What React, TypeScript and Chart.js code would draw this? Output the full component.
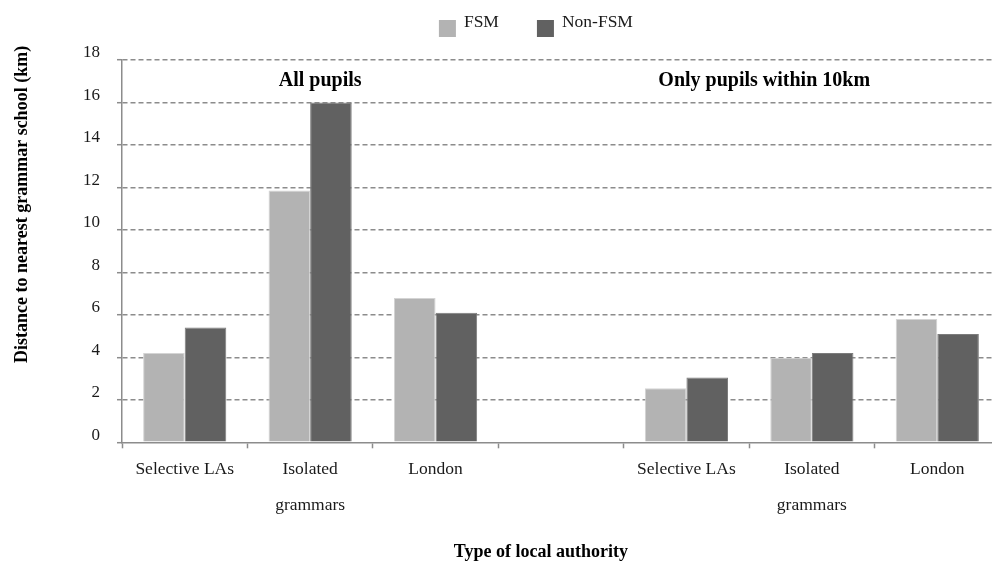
import React, { useEffect, useRef } from 'react';
import { Chart, registerables } from 'chart.js';

Chart.register(...registerables);

const categories: string[][] = [
  ['Selective LAs'],
  ['Isolated', 'grammars'],
  ['London'],
  [''],
  ['Selective LAs'],
  ['Isolated', 'grammars'],
  ['London'],
];
const seriesNames = ['FSM', 'Non-FSM'];
const fsmValues = [4.2, 11.85, 6.8, null, 2.55, 3.98, 5.8];
const nonFsmValues = [5.4, 16.0, 6.1, null, 3.05, 4.2, 5.1];
const yTickValues = [0, 2, 4, 6, 8, 10, 12, 14, 16, 18];
const panelLabels = ['All pupils', 'Only pupils within 10km'];
const xAxisTitle = 'Type of local authority';
const yAxisTitle = 'Distance to nearest grammar school (km)';

const FONT = '"Liberation Serif", "Times New Roman", serif';
const FSM_COLOR = '#b3b3b3';
const NONFSM_COLOR = '#616161';
const GRID = '#8c8c8c';

const overlayPlugin = {
  id: 'overlay',
  afterDraw(chart: any) {
    const { ctx, scales } = chart;
    const x = scales.x;
    const y = scales.y;
    ctx.save();
    ctx.fillStyle = '#000';
    ctx.textAlign = 'center';
    ctx.textBaseline = 'middle';
    // panel labels
    ctx.font = `bold 20px ${FONT}`;
    ctx.fillText(panelLabels[0], x.getPixelForValue(1.08), y.getPixelForValue(17));
    ctx.fillText(panelLabels[1], x.getPixelForValue(4.62), y.getPixelForValue(17));
    // x axis title
    ctx.font = `bold 18px ${FONT}`;
    ctx.fillText(xAxisTitle, x.getPixelForValue(2.84), chart.height - 13);
    // y axis title
    ctx.save();
    ctx.translate(22, y.getPixelForValue(11.2));
    ctx.rotate(-Math.PI / 2);
    ctx.fillText(yAxisTitle, 0, 0);
    ctx.restore();
    // legend
    ctx.font = `17.5px ${FONT}`;
    ctx.textAlign = 'left';
    ctx.textBaseline = 'alphabetic';
    const colors = [FSM_COLOR, NONFSM_COLOR];
    const box = 17;
    const gap = 8;
    const spacing = 38;
    const widths = seriesNames.map((s) => ctx.measureText(s).width);
    const total = widths.reduce((a: number, w: number) => a + box + gap + w, 0) + spacing * (seriesNames.length - 1);
    let cx = x.getPixelForValue(2.8) - total / 2;
    seriesNames.forEach((s, i) => {
      ctx.fillStyle = colors[i];
      ctx.fillRect(cx, 20, box, box);
      ctx.fillStyle = '#1a1a1a';
      ctx.fillText(s, cx + box + gap, 27);
      cx += box + gap + widths[i] + spacing;
    });
    ctx.restore();
  },
};

export default function App() {
  const ref = useRef<HTMLCanvasElement | null>(null);

  useEffect(() => {
    if (!ref.current) return;
    const chart = new Chart(ref.current, {
      type: 'bar',
      data: {
        labels: categories,
        datasets: [
          {
            label: seriesNames[0],
            data: fsmValues,
            backgroundColor: FSM_COLOR,
            borderColor: '#d4d4d4',
            borderWidth: 1,
            categoryPercentage: 0.663,
            barPercentage: 1,
          },
          {
            label: seriesNames[1],
            data: nonFsmValues,
            backgroundColor: NONFSM_COLOR,
            borderColor: '#7c7c7c',
            borderWidth: 1,
            categoryPercentage: 0.663,
            barPercentage: 1,
          },
        ],
      },
      options: {
        responsive: false,
        animation: false,
        layout: { padding: { top: 60, right: 4, left: 0, bottom: 0 } },
        plugins: {
          legend: { display: false },
          tooltip: { enabled: false },
          title: { display: false },
        },
        scales: {
          x: {
            grid: {
              display: true,
              drawOnChartArea: false,
              drawTicks: true,
              tickLength: 6,
              tickColor: GRID,
              tickWidth: 1.5,
            },
            border: { display: true, color: GRID, width: 1.5 },
            ticks: {
              color: '#1a1a1a',
              padding: 3,
              maxRotation: 0,
              autoSkip: false,
              font: { family: FONT, size: 17.5, lineHeight: '36px' },
            },
            afterFit: (scale: any) => {
              scale.height = 122.7;
            },
          },
          y: {
            min: 0,
            max: 18,
            afterBuildTicks: (scale: any) => {
              scale.ticks = yTickValues.map((v) => ({ value: v }));
            },
            grid: {
              color: (c: any) => (c.tick && c.tick.value === 0 ? 'rgba(0,0,0,0)' : GRID),
              lineWidth: 1.4,
              tickLength: 5,
              tickColor: GRID,
              tickWidth: 1.5,
            },
            border: { display: true, color: GRID, width: 1.5, dash: [5, 3] },
            ticks: {
              color: '#1a1a1a',
              padding: 17,
              font: { family: FONT, size: 17, lineHeight: '14px' },
              callback: (v: any) => [String(v), ''],
            },
            afterFit: (scale: any) => {
              scale.width = 122;
            },
          },
        },
      },
      plugins: [overlayPlugin],
    });
    return () => chart.destroy();
  }, []);

  return (
    <div
      style={{
        position: 'fixed',
        left: 0,
        top: 0,
        width: 992,
        height: 565,
        overflow: 'hidden',
        background: '#fff',
      }}
    >
      <canvas ref={ref} width={1004} height={565} style={{ display: 'block' }} />
    </div>
  );
}
